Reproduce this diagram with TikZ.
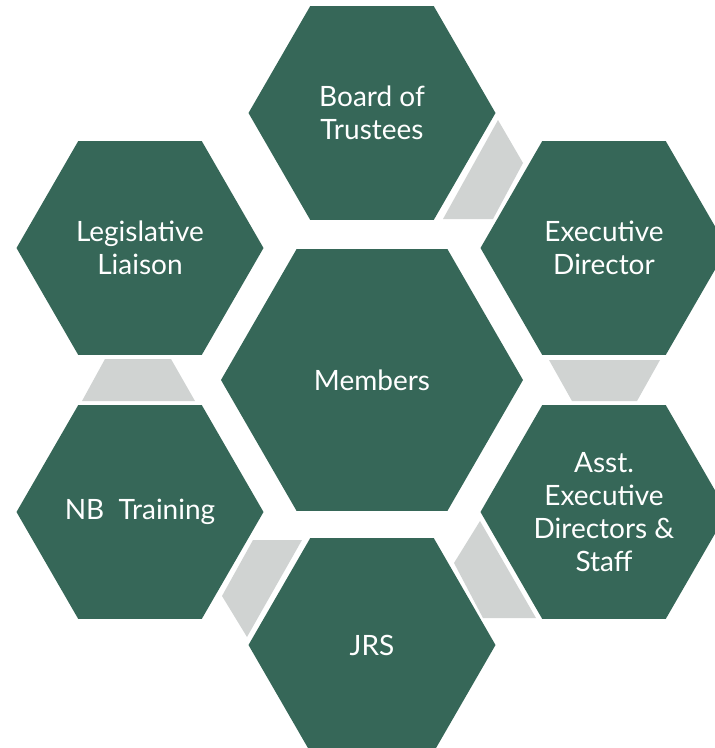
\documentclass[tikz,border=0pt]{standalone}
\usepackage{fontspec}
\setmainfont{Lato}
\usetikzlibrary{shapes.geometric, positioning}
\definecolor{hexgreen}{RGB}{54,103,88}
\definecolor{linkgray}{RGB}{208,211,210}
\tikzstyle{hexa}=[regular polygon, regular polygon sides=6, fill=hexgreen, inner sep=0pt,
  minimum size=247pt, text=white, align=center, font=\fontsize{28}{33}\selectfont]
\tikzstyle{link}=[fill=linkgray]

\begin{document}
\begin{tikzpicture}[x=1pt, y=-1pt]
\clip (0,0) rectangle (715,748);
% hexagons
\node [hexa, minimum size=302pt] (mem) at (372,380) {Members};
\node [hexa] (board) at (372,113) {Board of\\Trustees};
\node [hexa] (exec) at (604,248) {Executive\\Director};
\node [hexa] (asst) at (604,512) {Asst.\\Executive\\Directors \&\\Staff};
\node [hexa] (jrs) at (372,645) {JRS};
\node [hexa] (nbt) at (140,512) {NB~~Training};
\node [hexa] (leg) at (140,248) {Legislative\\Liaison};
% gray links between the outer ones
\fill [link] (498,120) -- (523,163) -- (493,219) -- (443,219) -- cycle;
\fill [link] (549,360) -- (660,360) -- (637,401) -- (572,401) -- cycle;
\fill [link] (480,521) -- (454,563) -- (483,618) -- (536,618) -- cycle;
\fill [link] (253,540) -- (302,540) -- (247,637) -- (222,596) -- cycle;
\fill [link] (105,359) -- (171,359) -- (195,401) -- (82,401) -- cycle;
\end{tikzpicture}
\end{document}
